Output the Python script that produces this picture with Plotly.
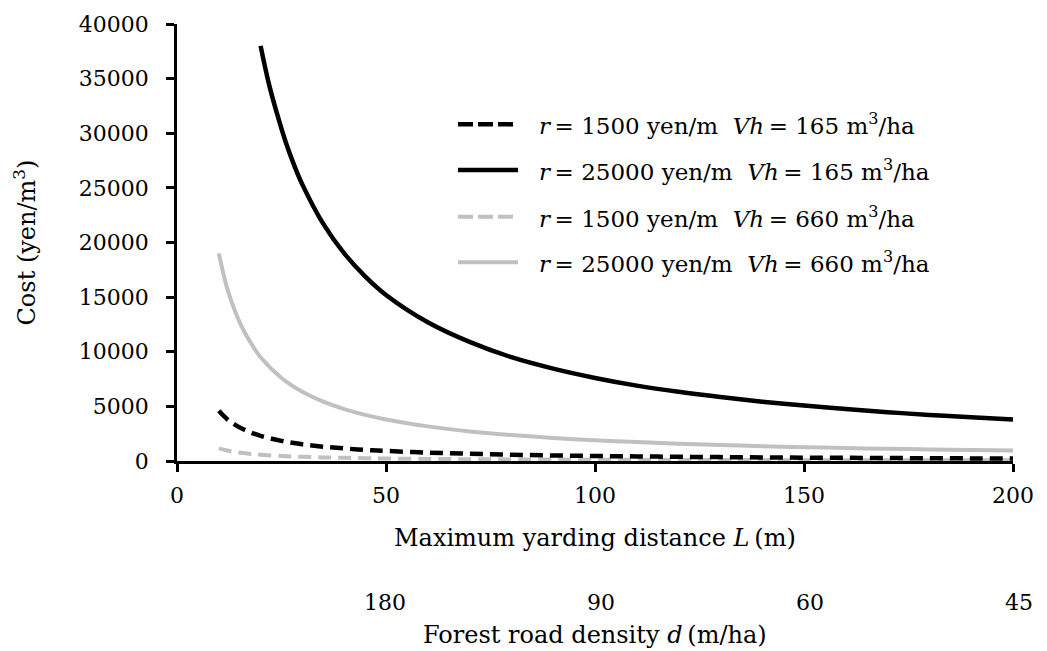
import plotly.graph_objects as go

# Maximum yarding distance L (m) for each series
L_r1500 = [10, 12, 14, 16, 18, 20, 25, 30, 35, 40, 45, 50, 60, 70, 80, 90, 100,
           110, 120, 130, 140, 150, 160, 170, 180, 190, 200]
L_r25000_v165 = [20, 22, 24, 26, 28, 30, 35, 40, 45, 50, 60, 70, 80, 90, 100,
                 110, 120, 130, 140, 150, 160, 170, 180, 190, 200]

# Cost (yen/m3)
cost_r1500_v165 = [4600, 3830, 3290, 2880, 2560, 2300, 1840, 1530, 1310, 1150, 1020, 920,
                   770, 660, 575, 510, 460, 420, 385, 355, 330, 305, 290, 270, 255, 240, 230]
cost_r25000_v165 = [38000, 34500, 31700, 29200, 27100, 25300, 21700, 19000, 16900, 15200,
                    12700, 10900, 9500, 8450, 7600, 6900, 6330, 5850, 5430, 5070, 4750,
                    4470, 4220, 4000, 3800]
cost_r1500_v660 = [1150, 960, 820, 720, 640, 575, 460, 385, 330, 290, 255, 230, 190, 165,
                   145, 128, 115, 105, 96, 88, 82, 77, 72, 68, 64, 60, 58]
cost_r25000_v660 = [19000, 15800, 13600, 11900, 10600, 9500, 7600, 6330, 5430, 4750, 4220,
                    3800, 3170, 2710, 2380, 2110, 1900, 1730, 1580, 1460, 1360, 1270, 1190,
                    1120, 1060, 1000, 950]

# Axis ticks
x_ticks = [0, 50, 100, 150, 200]
y_ticks = [0, 5000, 10000, 15000, 20000, 25000, 30000, 35000, 40000]
y_tick_labels = ["0", "5000", "10000", "15000", "20000", "25000", "30000", "35000", "40000"]

# Secondary scale: forest road density d (m/ha) at selected yarding distances
density_L = [50, 100, 150, 200]
density_labels = ["180", "90", "60", "45"]

legend_labels = [
    "<i>r</i>\u2009= 1500 yen/m\u00a0\u00a0<i>Vh</i>\u2009= 165 m<sup>3</sup>/ha",
    "<i>r</i>\u2009= 25000 yen/m\u00a0\u00a0<i>Vh</i>\u2009= 165 m<sup>3</sup>/ha",
    "<i>r</i>\u2009= 1500 yen/m\u00a0\u00a0<i>Vh</i>\u2009= 660 m<sup>3</sup>/ha",
    "<i>r</i>\u2009= 25000 yen/m\u00a0\u00a0<i>Vh</i>\u2009= 660 m<sup>3</sup>/ha",
]

BLACK = "#000000"
GREY = "#C0C0C0"
FONT = "DejaVu Serif"
FS_TICK = 22
FS_LEG = 23
FS_TITLE = 24
DASH = "13px,7px"

W, H = 1047, 651
ML, MR, MT, MB = 177, 34, 21, 190
PW, PH = W - ML - MR, H - MT - MB


def px_to_paper(px, py):
    return (px - ML) / PW, (MT + PH - py) / PH


series = [
    (L_r1500, cost_r1500_v660, GREY, DASH, 4),
    (L_r1500, cost_r1500_v165, BLACK, DASH, 4.5),
    (L_r1500, cost_r25000_v660, GREY, "solid", 4),
    (L_r25000_v165, cost_r25000_v165, BLACK, "solid", 4.5),
]

fig = go.Figure()
for xs, ys, color, dash, width in series:
    fig.add_trace(go.Scatter(
        x=xs, y=ys, mode="lines",
        line=dict(color=color, dash=dash, width=width, shape="spline", smoothing=1.0),
        showlegend=False, hoverinfo="skip",
    ))

# Hand-drawn legend: sample line + label per entry
legend_styles = [(BLACK, "dash", 4.5), (BLACK, "solid", 4.5),
                 (GREY, "dash", 4), (GREY, "solid", 4)]
legend_rows_px = [122, 168, 215, 261]
shapes = []
annotations = []
for (color, dash, width), row, label in zip(legend_styles, legend_rows_px, legend_labels):
    x0, y0 = px_to_paper(458, row)
    x1, _ = px_to_paper(518, row)
    shapes.append(dict(type="line", xref="paper", yref="paper", x0=x0, x1=x1, y0=y0, y1=y0,
                       line=dict(color=color, width=width,
                                 dash="15px,5px" if dash == "dash" else "solid")))
    tx, _ = px_to_paper(537, row)
    annotations.append(dict(xref="paper", yref="paper", x=tx, y=y0, text=label,
                            showarrow=False, xanchor="left", yanchor="middle",
                            font=dict(family=FONT, size=FS_LEG, color="black")))

# Secondary scale labels and titles
_, y_dens = px_to_paper(0, 603)
for xv, lab in zip(density_L, density_labels):
    annotations.append(dict(xref="x", yref="paper", x=xv, y=y_dens, text=lab,
                            showarrow=False, xanchor="right", yanchor="middle", xshift=22,
                            font=dict(family=FONT, size=FS_TICK, color="black")))

_, y_xt = px_to_paper(0, 539)
annotations.append(dict(xref="paper", yref="paper", x=0.5, y=y_xt,
                        text="Maximum yarding distance <i>L</i>\u2009(m)",
                        showarrow=False, xanchor="center", yanchor="middle",
                        font=dict(family=FONT, size=FS_TITLE, color="black")))
_, y_dt = px_to_paper(0, 636)
annotations.append(dict(xref="paper", yref="paper", x=0.5, y=y_dt,
                        text="Forest road density <i>d</i>\u2009(m/ha)",
                        showarrow=False, xanchor="center", yanchor="middle",
                        font=dict(family=FONT, size=FS_TITLE, color="black")))
x_yt, y_yt = px_to_paper(24, 241)
annotations.append(dict(xref="paper", yref="paper", x=x_yt, y=y_yt,
                        text="Cost (yen/m<sup>3</sup>)", textangle=-90,
                        showarrow=False, xanchor="center", yanchor="middle",
                        font=dict(family=FONT, size=FS_TITLE, color="black")))

fig.update_layout(
    width=W, height=H,
    margin=dict(l=ML, r=MR, t=MT, b=MB, pad=0),
    paper_bgcolor="white", plot_bgcolor="white",
    font=dict(family=FONT, size=FS_TICK, color="black"),
    shapes=shapes, annotations=annotations,
    xaxis=dict(range=[0, 200], tickvals=x_ticks, showgrid=False,
               zeroline=False, showline=True, linecolor="black", linewidth=2.5,
               ticks="outside", ticklen=8, tickwidth=2.5, tickcolor="black",
               ticklabelstandoff=5, layer="below traces",
               tickfont=dict(family=FONT, size=FS_TICK, color="black")),
    yaxis=dict(range=[0, 40000], tickvals=y_ticks, ticktext=y_tick_labels, showgrid=False,
               zeroline=False, showline=True, linecolor="black", linewidth=2.5,
               ticks="outside", ticklen=8, tickwidth=2.5, tickcolor="black",
               ticklabelstandoff=13, layer="below traces",
               tickfont=dict(family=FONT, size=FS_TICK, color="black")),
)

fig.write_html("out.html")
